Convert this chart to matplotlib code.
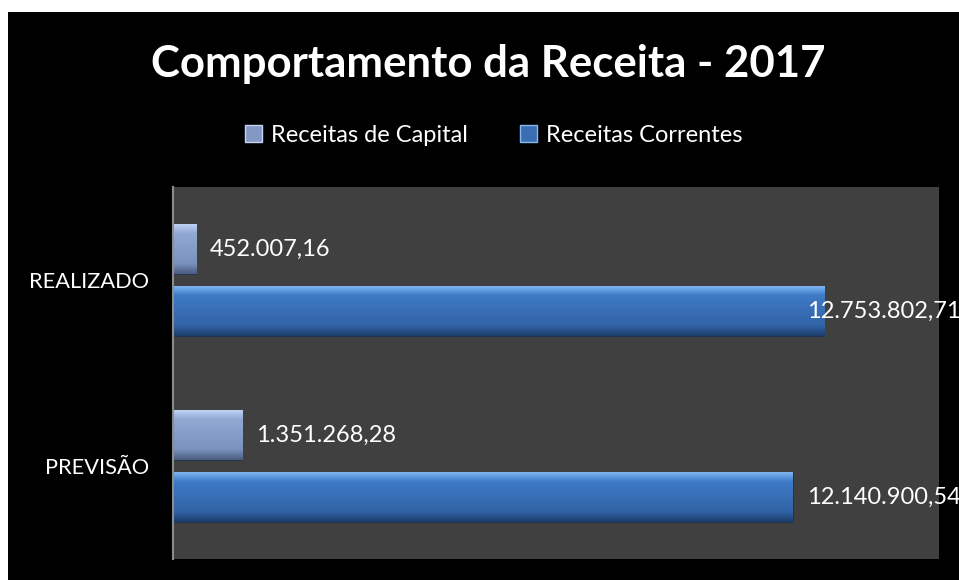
import matplotlib.pyplot as plt
import numpy as np
from matplotlib.patches import Rectangle, Patch
from matplotlib.colors import to_rgb

# Chart data
categorias = ['PREVISÃO', 'REALIZADO']
receitas_capital = [1351268.28, 452007.16]
receitas_correntes = [12140900.54, 12753802.71]
series_nomes = ['Receitas de Capital', 'Receitas Correntes']
titulo = 'Comportamento da Receita - 2017'


def fmt_br(v):
    s = '{:,.2f}'.format(v)
    return s.replace(',', 'X').replace('.', ',').replace('X', '.')


plt.rcParams['font.family'] = ['Lato', 'DejaVu Sans']

W, H = 959, 580
fig = plt.figure(figsize=(W / 100, H / 100), dpi=100, facecolor='white')

# black chart area (white strip on top and left)
fig.patches.append(Rectangle((8 / W, 0), 1 - 8 / W, (H - 12) / H,
                             transform=fig.transFigure, facecolor='black',
                             edgecolor='none', zorder=-5))

ax = fig.add_axes([173 / W, (H - 559) / H, (939 - 173) / W, (559 - 187) / H])
ax.set_zorder(1)
ax.set_facecolor('#404040')

y = np.arange(len(categorias))
off = 0.167
h = 0.27

# gradient stops (top -> bottom) to fake the excel bevel
grad = {
    'capital': [(0.0, '#c4d6f4'), (0.1, '#a9bfe6'), (0.2, '#91a8d2'),
                (0.8, '#7a92bd'), (0.9, '#62779f'), (1.0, '#4c5d80')],
    'correntes': [(0.0, '#86baf2'), (0.1, '#5f9be0'), (0.2, '#3e7ac6'),
                  (0.8, '#3263a6'), (0.9, '#27508a'), (1.0, '#1d3d6c')],
}
base = {'capital': '#8398c2', 'correntes': '#3b6db2'}


def gradient_img(stops, n=60):
    t = np.linspace(0, 1, n)
    pos = [s[0] for s in stops]
    cols = np.array([to_rgb(s[1]) for s in stops])
    img = np.stack([np.interp(t, pos, cols[:, k]) for k in range(3)], axis=1)
    return img[:, None, :]


def bevel_bars(pos, vals, key):
    bars = ax.barh(pos, vals, height=h, color=base[key], edgecolor='#1b2d48',
                   linewidth=0.6, zorder=2)
    img = gradient_img(grad[key])
    for b in bars:
        x0, y0 = b.get_x(), b.get_y()
        im = ax.imshow(img, extent=[x0, x0 + b.get_width(), y0, y0 + b.get_height()],
                       origin='upper', aspect='auto', zorder=2.5,
                       interpolation='bilinear')
        im.set_clip_path(b)
    return bars


bevel_bars(y + off, receitas_capital, 'capital')
bevel_bars(y - off, receitas_correntes, 'correntes')

ax.set_xlim(0, 15000000)
ax.set_ylim(-0.5, 1.5)

# value labels
pad = 270000
lim = 12410000
for i in range(len(categorias)):
    ax.text(min(receitas_capital[i] + pad, lim), y[i] + off,
            fmt_br(receitas_capital[i]), color='white', fontsize=17,
            va='center', ha='left', zorder=5, clip_on=False)
    ax.text(min(receitas_correntes[i] + pad, lim), y[i] - off,
            fmt_br(receitas_correntes[i]), color='white', fontsize=17,
            va='center', ha='left', zorder=5, clip_on=False)

ax.set_yticks(y)
ax.set_yticklabels(categorias, color='white', fontsize=15.7)
ax.tick_params(axis='y', length=0, pad=17)
ax.set_xticks([])
for s in ['top', 'right', 'bottom']:
    ax.spines[s].set_visible(False)
ax.spines['left'].set_color('#8c8c8c')
ax.spines['left'].set_linewidth(1.5)
ax.spines['left'].set_zorder(4)

fig.text(488 / W, (H - 77) / H, titulo, color='white', fontsize=31.5,
         fontweight='bold', ha='center', va='baseline')

handles = [Patch(facecolor=base['capital'], edgecolor='#c4d6f4'),
           Patch(facecolor=base['correntes'], edgecolor='#86baf2')]
leg = fig.legend(handles, series_nomes, loc='center', ncol=2,
                 bbox_to_anchor=(494 / W, (H - 135) / H), frameon=False,
                 fontsize=17, handlelength=0.7, handleheight=0.7,
                 handletextpad=0.4, columnspacing=2.2)
for t in leg.get_texts():
    t.set_color('white')

fig.savefig('out.png', dpi=100, facecolor='white')
